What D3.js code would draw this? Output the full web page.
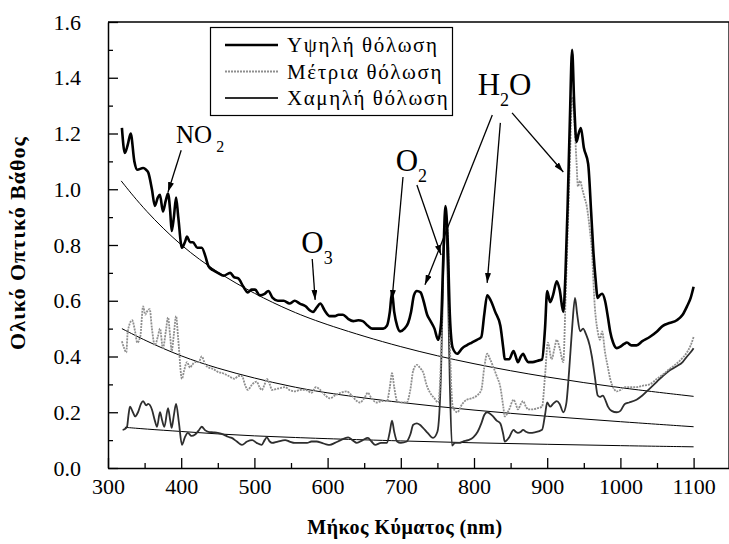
<!DOCTYPE html>
<html><head><meta charset="utf-8">
<script src="https://cdn.jsdelivr.net/npm/d3@7"></script>
<style>body{margin:0;background:#fff}svg{display:block}text{font-family:"Liberation Serif","Times New Roman",serif}</style>
</head><body><svg id="c" width="729" height="544"></svg>
<script>
const xTicks = [300,400,500,600,700,800,900,1000,1100];
const yTicks = [0.0,0.2,0.4,0.6,0.8,1.0,1.2,1.4,1.6];
const seriesNames = ["Υψηλή θόλωση","Μέτρια θόλωση","Χαμηλή θόλωση"];

const high = [[319,1.22],[323,1.13],[327,1.16],[331,1.20],[336,1.10],[340,1.07],[348,1.076],[352,1.07],[355,1.06],[360,1.00],[364,0.94],[368,0.97],[371,0.98],[375,0.92],[379,0.96],[382,0.985],[385,0.92],[387,0.85],[390,0.90],[393,0.97],[396,0.90],[401,0.79],[405,0.81],[408,0.83],[412,0.81],[416,0.81],[422,0.79],[428,0.79],[433,0.76],[437,0.725],[443,0.71],[450,0.70],[458,0.69],[467,0.70],[472,0.685],[478,0.68],[485,0.65],[491,0.63],[496,0.64],[501,0.64],[507,0.62],[514,0.625],[519,0.635],[525,0.61],[532,0.60],[540,0.60],[548,0.59],[555,0.60],[562,0.59],[570,0.58],[576,0.565],[580,0.56],[585,0.575],[590,0.59],[596,0.565],[603,0.545],[610,0.545],[615,0.55],[621,0.55],[628,0.535],[635,0.527],[642,0.53],[648,0.527],[655,0.51],[661,0.50],[668,0.50],[676,0.50],[681,0.51],[685,0.56],[688,0.63],[691,0.56],[695,0.51],[699,0.49],[705,0.50],[710,0.52],[714,0.56],[718,0.62],[722,0.635],[727,0.63],[731,0.60],[736,0.55],[740,0.53],[746,0.50],[751,0.46],[755,0.52],[758,0.75],[761,0.94],[764,0.82],[767,0.55],[771,0.43],[777,0.41],[784,0.43],[790,0.44],[797,0.45],[804,0.46],[810,0.47],[814,0.55],[818,0.62],[823,0.60],[829,0.56],[836,0.51],[840,0.43],[842,0.39],[848,0.39],[854,0.42],[857,0.40],[860,0.38],[864,0.40],[867,0.41],[871,0.39],[874,0.38],[880,0.38],[887,0.385],[893,0.39],[897,0.50],[900,0.635],[904,0.595],[908,0.62],[913,0.67],[917,0.64],[922,0.56],[925,0.70],[928,0.95],[931,1.25],[934,1.50],[937,1.30],[940,1.17],[943,1.20],[946,1.22],[950,1.15],[956,1.09],[960,0.92],[963,0.78],[966,0.68],[969,0.61],[972,0.62],[975,0.625],[979,0.60],[983,0.54],[986,0.49],[990,0.45],[995,0.43],[1000,0.435],[1005,0.445],[1009,0.45],[1015,0.44],[1022,0.44],[1030,0.455],[1040,0.47],[1050,0.49],[1058,0.51],[1067,0.52],[1077,0.53],[1085,0.55],[1091,0.58],[1096,0.61],[1100,0.65]];

const medium = [[319,0.455],[322,0.43],[325,0.415],[327,0.49],[333,0.53],[337,0.49],[340,0.45],[344,0.47],[348,0.58],[351,0.55],[353,0.56],[357,0.57],[360,0.50],[364,0.44],[368,0.47],[371,0.50],[375,0.43],[379,0.49],[382,0.54],[385,0.47],[387,0.42],[390,0.48],[393,0.545],[396,0.46],[401,0.32],[404,0.35],[408,0.38],[412,0.36],[415,0.37],[419,0.38],[424,0.38],[428,0.40],[433,0.37],[438,0.36],[444,0.355],[450,0.345],[457,0.34],[465,0.33],[473,0.32],[478,0.33],[483,0.33],[487,0.30],[491,0.28],[497,0.30],[503,0.31],[507,0.29],[510,0.28],[514,0.30],[517,0.32],[521,0.30],[524,0.28],[532,0.285],[542,0.29],[548,0.28],[555,0.275],[563,0.28],[570,0.28],[578,0.27],[584,0.29],[590,0.28],[597,0.26],[603,0.25],[610,0.26],[618,0.27],[626,0.275],[633,0.26],[640,0.24],[644,0.235],[650,0.25],[655,0.27],[660,0.25],[667,0.235],[674,0.24],[681,0.24],[685,0.29],[688,0.34],[691,0.29],[695,0.24],[700,0.235],[708,0.235],[713,0.28],[717,0.35],[722,0.37],[726,0.36],[731,0.34],[735,0.30],[740,0.27],[746,0.25],[751,0.235],[755,0.40],[758,0.75],[761,0.90],[764,0.85],[767,0.45],[771,0.22],[777,0.20],[784,0.23],[790,0.245],[797,0.25],[804,0.26],[810,0.28],[814,0.36],[818,0.41],[822,0.39],[826,0.365],[831,0.33],[836,0.29],[840,0.22],[842,0.185],[848,0.21],[854,0.245],[857,0.23],[860,0.21],[864,0.23],[867,0.24],[871,0.22],[874,0.21],[880,0.21],[887,0.215],[893,0.22],[897,0.33],[901,0.45],[906,0.39],[910,0.43],[913,0.46],[917,0.43],[922,0.38],[925,0.60],[928,0.85],[931,1.10],[934,1.33],[937,1.25],[940,1.10],[942,1.01],[945,1.03],[948,1.00],[951,0.97],[954,0.94],[958,0.86],[961,0.78],[965,0.58],[969,0.49],[972,0.46],[975,0.49],[979,0.415],[983,0.36],[986,0.32],[990,0.29],[995,0.275],[1000,0.28],[1006,0.29],[1012,0.29],[1022,0.29],[1030,0.295],[1040,0.30],[1050,0.32],[1058,0.335],[1067,0.355],[1077,0.375],[1085,0.395],[1091,0.415],[1096,0.44],[1100,0.47]];

const low = [[320,0.137],[323,0.14],[326,0.148],[328,0.19],[330,0.22],[334,0.20],[337,0.185],[341,0.20],[345,0.23],[348,0.24],[352,0.225],[355,0.23],[360,0.21],[364,0.17],[367,0.148],[371,0.20],[374,0.17],[377,0.148],[382,0.215],[385,0.17],[387,0.144],[390,0.19],[393,0.23],[397,0.16],[401,0.083],[405,0.11],[409,0.126],[414,0.115],[419,0.12],[424,0.135],[428,0.148],[433,0.135],[437,0.13],[444,0.128],[450,0.126],[458,0.12],[464,0.112],[469,0.108],[476,0.095],[483,0.083],[490,0.095],[497,0.10],[503,0.09],[510,0.083],[514,0.10],[517,0.11],[521,0.095],[524,0.09],[532,0.095],[542,0.10],[548,0.095],[555,0.09],[563,0.09],[572,0.09],[578,0.095],[585,0.095],[592,0.09],[598,0.085],[603,0.083],[610,0.09],[618,0.10],[628,0.11],[634,0.10],[640,0.09],[648,0.10],[655,0.108],[660,0.095],[665,0.083],[673,0.09],[681,0.09],[685,0.13],[688,0.17],[691,0.13],[695,0.095],[700,0.09],[708,0.095],[713,0.12],[717,0.155],[722,0.16],[726,0.155],[730,0.145],[737,0.125],[744,0.108],[750,0.13],[755,0.35],[758,0.70],[761,0.87],[764,0.70],[767,0.30],[770,0.08],[774,0.09],[780,0.09],[785,0.095],[792,0.10],[799,0.11],[805,0.13],[810,0.16],[814,0.19],[818,0.20],[822,0.195],[826,0.185],[831,0.17],[836,0.16],[840,0.12],[842,0.095],[848,0.11],[854,0.137],[857,0.13],[860,0.126],[864,0.13],[867,0.137],[871,0.13],[876,0.126],[883,0.128],[893,0.137],[897,0.19],[900,0.235],[904,0.22],[908,0.23],[913,0.24],[917,0.23],[922,0.20],[926,0.23],[930,0.35],[934,0.50],[938,0.61],[941,0.55],[945,0.49],[949,0.50],[953,0.48],[958,0.44],[961,0.40],[965,0.33],[969,0.26],[972,0.255],[976,0.26],[980,0.24],[983,0.22],[988,0.205],[995,0.20],[1000,0.205],[1006,0.23],[1012,0.235],[1022,0.245],[1030,0.26],[1040,0.285],[1050,0.31],[1058,0.33],[1067,0.35],[1077,0.365],[1085,0.38],[1091,0.40],[1096,0.415],[1100,0.43]];

const highFit = [[318,1.03],[350,0.925],[400,0.795],[450,0.70],[500,0.625],[550,0.562],[600,0.512],[700,0.432],[800,0.372],[900,0.325],[1000,0.287],[1100,0.257]];
const mediumFit = [[319,0.50],[350,0.458],[400,0.40],[450,0.357],[500,0.322],[550,0.292],[600,0.268],[700,0.234],[800,0.207],[900,0.185],[1000,0.166],[1100,0.148]];
const lowFit = [[323,0.146],[350,0.14],[400,0.131],[450,0.122],[500,0.115],[550,0.110],[600,0.105],[700,0.097],[800,0.090],[900,0.085],[1000,0.080],[1100,0.076]];

const annotations = [
  {main:"NO", sub:"2", tail:"", at:[393,1.165], size:25, subSize:16, arrows:[[[400,1.14],[382,0.99]]]},
  {main:"O", sub:"3", tail:"", at:[564,0.771], size:31, subSize:18, arrows:[[[579,0.75],[583,0.603]]]},
  {main:"O", sub:"2", tail:"", at:[693,1.065], size:31, subSize:18, arrows:[[[703,1.044],[688,0.603]],[[722,1.015],[755,0.764]]]},
  {main:"H", sub:"2", tail:"O", at:[805,1.338], size:31, subSize:18, arrows:[[[825,1.266],[733,0.657]],[[836,1.238],[818,0.664]],[[852,1.274],[922,1.062]]]}
];

const svg = d3.select("#c");
const L = 108, R = 729, T = 22, B = 468;
const x = d3.scaleLinear().domain([300,1150]).range([L, L + 850*0.732]);
const y = d3.scaleLinear().domain([0,1.6]).range([B, T]);

svg.append("defs").append("marker").attr("id","ah").attr("viewBox","0 0 10 6")
  .attr("refX",10).attr("refY",3).attr("markerWidth",10).attr("markerHeight",6)
  .attr("markerUnits","userSpaceOnUse").attr("orient","auto")
  .append("path").attr("d","M0,0L10,3L0,6Z").attr("fill","#000");

svg.append("path").attr("d",`M${L},${T}H${R}V${B}`).attr("fill","none").attr("stroke","#000").attr("stroke-width",1.3);

const gx = svg.append("g").attr("transform",`translate(0,${B})`);
gx.call(d3.axisBottom(x).tickValues(xTicks).tickSizeInner(-10).tickSizeOuter(0).tickPadding(10).tickFormat(d3.format("d")));
const gxm = svg.append("g").attr("transform",`translate(0,${B})`);
gxm.call(d3.axisBottom(x).tickValues(d3.range(350,1151,100)).tickSizeInner(-5).tickSizeOuter(0).tickFormat(""));
gxm.select(".domain").remove();
const gy = svg.append("g").attr("transform",`translate(${L},0)`);
gy.call(d3.axisLeft(y).tickValues(yTicks).tickSizeInner(-10).tickSizeOuter(0).tickPadding(27).tickFormat(d3.format(".1f")));
const gym = svg.append("g").attr("transform",`translate(${L},0)`);
gym.call(d3.axisLeft(y).tickValues(d3.range(0.1,1.6,0.2)).tickSizeInner(-5).tickSizeOuter(0).tickFormat(""));
gym.select(".domain").remove();
svg.selectAll(".tick line").attr("stroke","#000").attr("stroke-width",1.3);
svg.selectAll(".domain").attr("stroke","#000").attr("stroke-width",1.5);
svg.selectAll(".tick text").attr("font-family","Liberation Serif").attr("font-size",22).attr("fill","#000");

const line = d3.line().x(d=>x(d[0])).y(d=>y(d[1])).curve(d3.curveMonotoneX);
const fitLine = d3.line().x(d=>x(d[0])).y(d=>y(d[1])).curve(d3.curveBasis);

const styles = [
  {stroke:"#000", w:2.6, dash:null},
  {stroke:"#8f8f8f", w:1.8, dash:"2 1"},
  {stroke:"#2e2e2e", w:1.8, dash:null}
];
[lowFit, mediumFit, highFit].forEach(f=>{
  svg.append("path").datum(f).attr("d",fitLine).attr("fill","none").attr("stroke","#000").attr("stroke-width",1);
});
[low, medium, high].forEach((s,i)=>{
  const st = styles[2-i];
  const p = svg.append("path").datum(s).attr("d",line).attr("fill","none")
    .attr("stroke",st.stroke).attr("stroke-width",st.w).attr("stroke-linejoin","round");
  if (st.dash) p.attr("stroke-dasharray",st.dash);
});

const lg = svg.append("g");
lg.append("rect").attr("x",210.5).attr("y",27.5).attr("width",242).attr("height",88)
  .attr("fill","#fff").attr("stroke","#000").attr("stroke-width",1.2);
seriesNames.forEach((n,i)=>{
  const yy = 45 + i*26.5;
  const st = styles[i];
  const l = lg.append("line").attr("x1",225).attr("x2",278).attr("y1",yy).attr("y2",yy)
    .attr("stroke",st.stroke).attr("stroke-width",st.w);
  if (st.dash) l.attr("stroke-dasharray",st.dash);
  lg.append("text").attr("x",287).attr("y",yy+7).attr("font-size",21).attr("letter-spacing",1.6).attr("fill","#000").text(n);
});

annotations.forEach(a=>{
  const t = svg.append("text").attr("x",x(a.at[0])).attr("y",y(a.at[1])).attr("font-size",a.size).attr("fill","#000");
  t.append("tspan").text(a.main);
  t.append("tspan").attr("dx", a.main==="NO"?4:0).attr("dy", a.size*0.36).attr("font-size",a.subSize).text(a.sub);
  if (a.tail) t.append("tspan").attr("dy", -a.size*0.36).text(a.tail);
  a.arrows.forEach(ar=>{
    svg.append("line").attr("x1",x(ar[0][0])).attr("y1",y(ar[0][1])).attr("x2",x(ar[1][0])).attr("y2",y(ar[1][1]))
      .attr("stroke","#000").attr("stroke-width",1.3).attr("marker-end","url(#ah)");
  });
});

svg.append("text").attr("x",405).attr("y",534).attr("text-anchor","middle").attr("font-size",20)
  .attr("font-weight","bold").attr("letter-spacing",0.5).attr("fill","#000").text("Μήκος Κύματος (nm)");
svg.append("text").attr("transform","translate(25,243) rotate(-90)").attr("text-anchor","middle").attr("font-size",22)
  .attr("font-weight","bold").attr("letter-spacing",1).attr("fill","#000").text("Ολικό Οπτικό Βάθος");
</script></body></html>
